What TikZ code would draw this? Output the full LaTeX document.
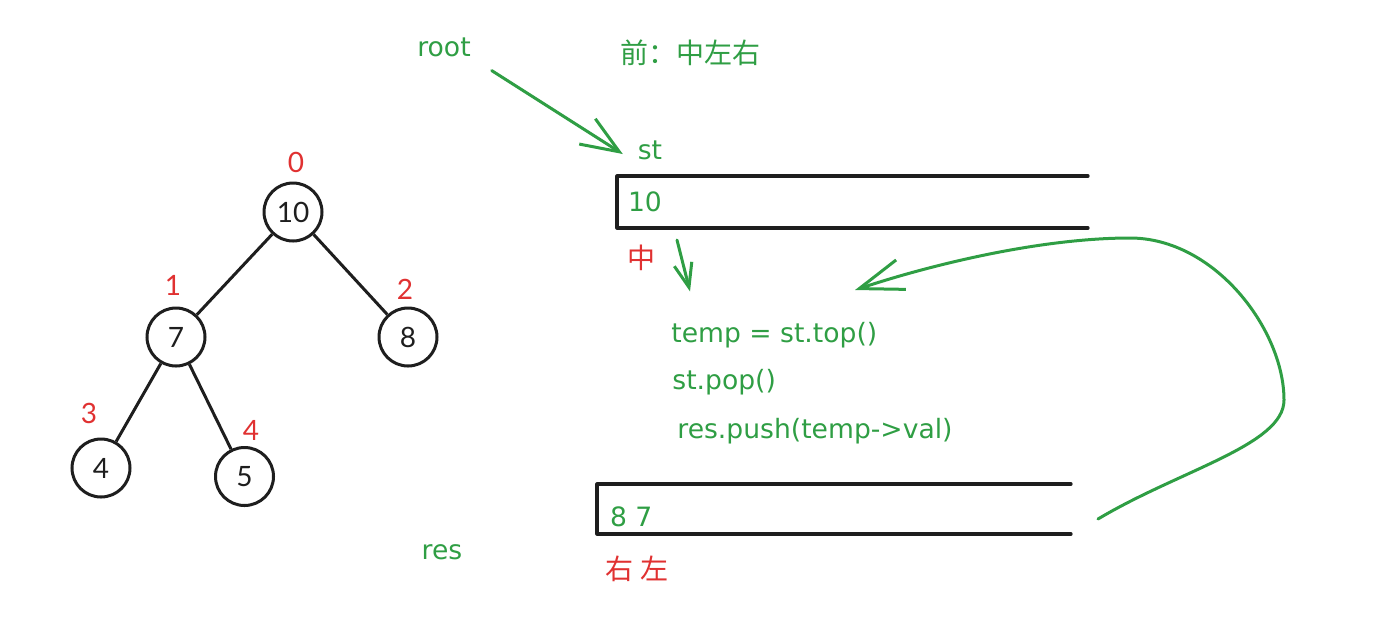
\documentclass[tikz,border=0pt]{standalone}
\usepackage{fontspec}
\setmainfont{Lato}
\newfontfamily\hand{DejaVu Sans}
\newfontfamily\cjk{Noto Sans CJK SC}
\usetikzlibrary{arrows.meta,positioning}
\definecolor{xgreen}{HTML}{2F9E44}
\definecolor{xred}{HTML}{E03131}
\definecolor{xblack}{HTML}{1E1E1E}

\begin{document}
\begin{tikzpicture}[x=0.5pt,y=0.5pt]
	\tikzstyle{main}=[circle, minimum size=29pt, inner sep=0pt, line width=1.5pt, draw=xblack, text=xblack, font=\fontsize{14}{16}\selectfont]
	\tikzstyle{connect}=[line width=1.5pt, draw=xblack]
	\tikzstyle{idx}=[text=xred, font=\fontsize{14}{16}\selectfont]
	\tikzstyle{note}=[text=xgreen, font=\hand\fontsize{13.3}{16}\selectfont]
	\tikzstyle{code}=[note, inner sep=0pt, anchor=base west]
	\tikzstyle{box}=[rectangle, inner sep=0pt, outer sep=0pt]
	\tikzstyle{side}=[line width=1.6pt, draw=xblack, line cap=round, line join=round]
	\tikzstyle{flow}=[line width=1.5pt, draw=xgreen, line cap=round, line join=round]
	\useasboundingbox (0,0) rectangle (1382,-623);
	% tree
	\node[main] (n10) at (293,-212) {10};
	\node[main] (n7) [on grid, below left=62.5pt and 58.5pt of n10] {7};
	\node[main] (n8) [on grid, below right=62.5pt and 57.5pt of n10] {8};
	\node[main] (n4) [on grid, below left=65.5pt and 37.5pt of n7] {4};
	\node[main] (n5) [on grid, below right=69.75pt and 34.25pt of n7] {5};
	\path (n10) edge [connect] (n7)
	(n10) edge [connect] (n8)
	(n7) edge [connect] (n4)
	(n7) edge [connect] (n5);
	\node[idx] (i0) [on grid, above=25pt of n10, xshift=1.5pt] {0};
	\node[idx] (i1) [on grid, above=25.8pt of n7, xshift=-1.5pt] {1};
	\node[idx] (i2) [on grid, above=24pt of n8, xshift=-1.5pt] {2};
	\node[idx] (i3) [on grid, above left=27.5pt and 6pt of n4] {3};
	\node[idx] (i4) [on grid, above right=23pt and 3.25pt of n5] {4};
	% stack
	\node[note] (root) at (444,-47) {root};
	\node[note, font=\fontsize{14}{16}\selectfont] (order) at (690,-53) {\cjk 前：中左右};
	\node[note] (st) at (650,-150) {st};
	\node[box, minimum width=235.5pt, minimum height=26pt] (stbox) at (852.5,-202) {};
	\draw[side] (stbox.north east) -- (stbox.north west) -- (stbox.south west) -- (stbox.south east);
	\node[note] (top) [right=2pt of stbox.west] {10};
	\node[idx] (mid) at (641,-258) {\cjk 中};
	\node[code] (code1) at (671,-342) {temp = st.top()};
	\node[code] (code2) at (672,-389) {st.pop()};
	\node[code] (code3) at (677,-438) {res.push(temp->val)};
	% result
	\node[box, minimum width=237pt, minimum height=25pt] (resbox) at (834,-509) {};
	\draw[side] (resbox.north east) -- (resbox.north west) -- (resbox.south west) -- (resbox.south east);
	\node[note] (vals) [right=3pt of resbox.west, yshift=-4pt] {8 7};
	\node[note] (res) at (442,-552) {res};
	\node[idx] (sides) at (637,-569) {\cjk 右 左};
	\coordinate (loopend) at (855,-290);
	\draw[flow, -{Straight Barb[length=19pt,width=15pt]}] ([shift={(7pt,-3.5pt)}]root.south east) -- ([shift={(-4pt,-2pt)}]st.west);
	\draw[flow, -{Straight Barb[length=12pt,width=9pt]}] ([shift={(30pt,-6pt)}]stbox.south west) -- ([shift={(9.5pt,15pt)}]code1.north west);
	\draw[flow, -{Straight Barb[length=22pt,width=15.5pt]}] ([shift={(13.5pt,7.5pt)}]resbox.south east)
	.. controls (1180,-470) and (1284,-445) .. (1284,-400)
	.. controls (1284,-330) and (1215,-238) .. (1130,-238)
	.. controls (1040,-238) and (930,-265) .. (loopend);
\end{tikzpicture}
\end{document}
